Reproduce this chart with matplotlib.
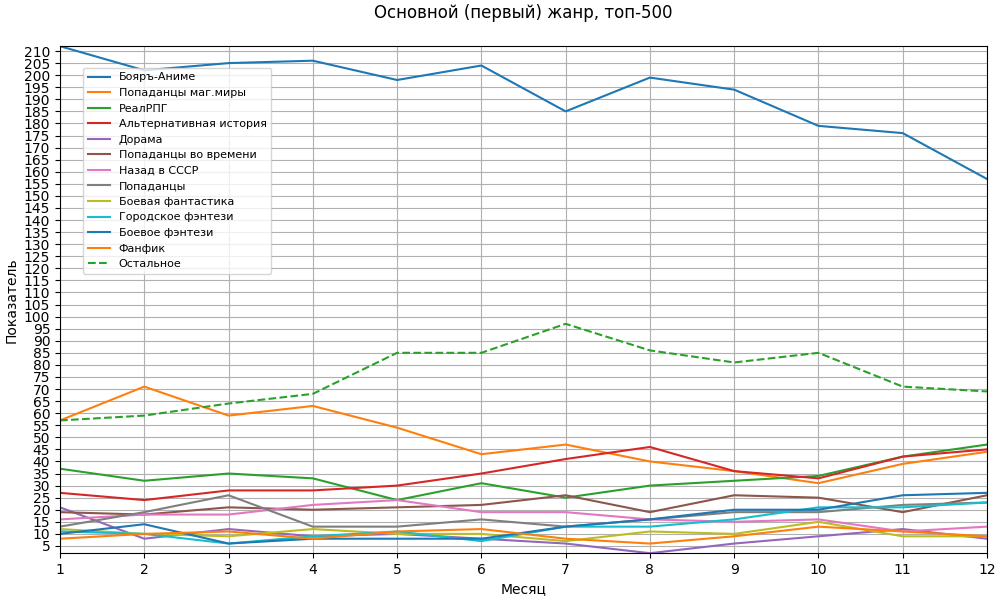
import matplotlib.pyplot as plt
import numpy as np

# =========================================================
# ДАННЫЕ
# =========================================================

meses = list(range(1, 13))

boyar_anime = [212, 202, 205, 206, 198, 204, 185, 199, 194, 179, 176, 157]
popadantsy_mag = [57, 71, 59, 63, 54, 43, 47, 40, 36, 31, 39, 44]
realrpg = [37, 32, 35, 33, 24, 31, 25, 30, 32, 34, 42, 47]
alt_istoriya = [27, 24, 28, 28, 30, 35, 41, 46, 36, 33, 42, 45]
dorama = [21, 8, 12, 9, 10, 8, 6, 2, 6, 9, 12, 8]
popadantsy_vremya = [19, 18, 21, 20, 21, 22, 26, 19, 26, 25, 19, 26]
nazad_sssr = [16, 18, 18, 22, 24, 19, 19, 16, 15, 16, 11, 13]
popadantsy = [13, 19, 26, 13, 13, 16, 13, 16, 19, 19, 22, 23]
boevaya_fant = [12, 10, 9, 12, 10, 10, 7, 11, 10, 15, 9, 9]
gorodskoe = [11, 10, 6, 9, 11, 7, 13, 13, 16, 21, 21, 23]
boevoe_fentezi = [10, 14, 6, 8, 8, 8, 13, 16, 20, 20, 26, 27]
fanfik = [8, 10, 11, 8, 11, 12, 8, 6, 9, 13, 11, 9]
ostalnoe = [57, 59, 64, 68, 85, 85, 97, 86, 81, 85, 71, 69]

series = [
    ("Бояръ-Аниме", boyar_anime),
    ("Попаданцы маг.миры", popadantsy_mag),
    ("РеалРПГ", realrpg),
    ("Альтернативная история", alt_istoriya),
    ("Дорама", dorama),
    ("Попаданцы во времени", popadantsy_vremya),
    ("Назад в СССР", nazad_sssr),
    ("Попаданцы", popadantsy),
    ("Боевая фантастика", boevaya_fant),
    ("Городское фэнтези", gorodskoe),
    ("Боевое фэнтези", boevoe_fentezi),
    ("Фанфик", fanfik),
]

# =========================================================
# ГРАФИК
# =========================================================

fig = plt.figure(figsize=(10, 6), dpi=100)
ax = fig.add_axes([0.06, 0.078, 0.927, 0.845])

for nombre, valores in series:
    ax.plot(meses, valores, label=nombre, linewidth=1.5)

ax.plot(meses, ostalnoe, label="Остальное", linestyle="--", color="tab:green", linewidth=1.5)

todos = [v for _, vals in series for v in vals] + ostalnoe
ax.set_xlim(1, 12)
ax.set_ylim(min(todos), max(todos))
ax.set_xticks(meses)
ax.set_yticks(np.arange(5, 211, 5))
ax.grid(True)

# título centrado sobre los ejes
fig.text(0.5235, 1 - 12.5 / 600, "Основной (первый) жанр, топ-500",
         ha="center", va="center", fontsize=12)
ax.set_xlabel("Месяц")
ax.set_ylabel("Показатель")
ax.legend(loc="upper left", bbox_to_anchor=(0.019, 0.968), fontsize=8)

fig.savefig("out.png", dpi=100)
